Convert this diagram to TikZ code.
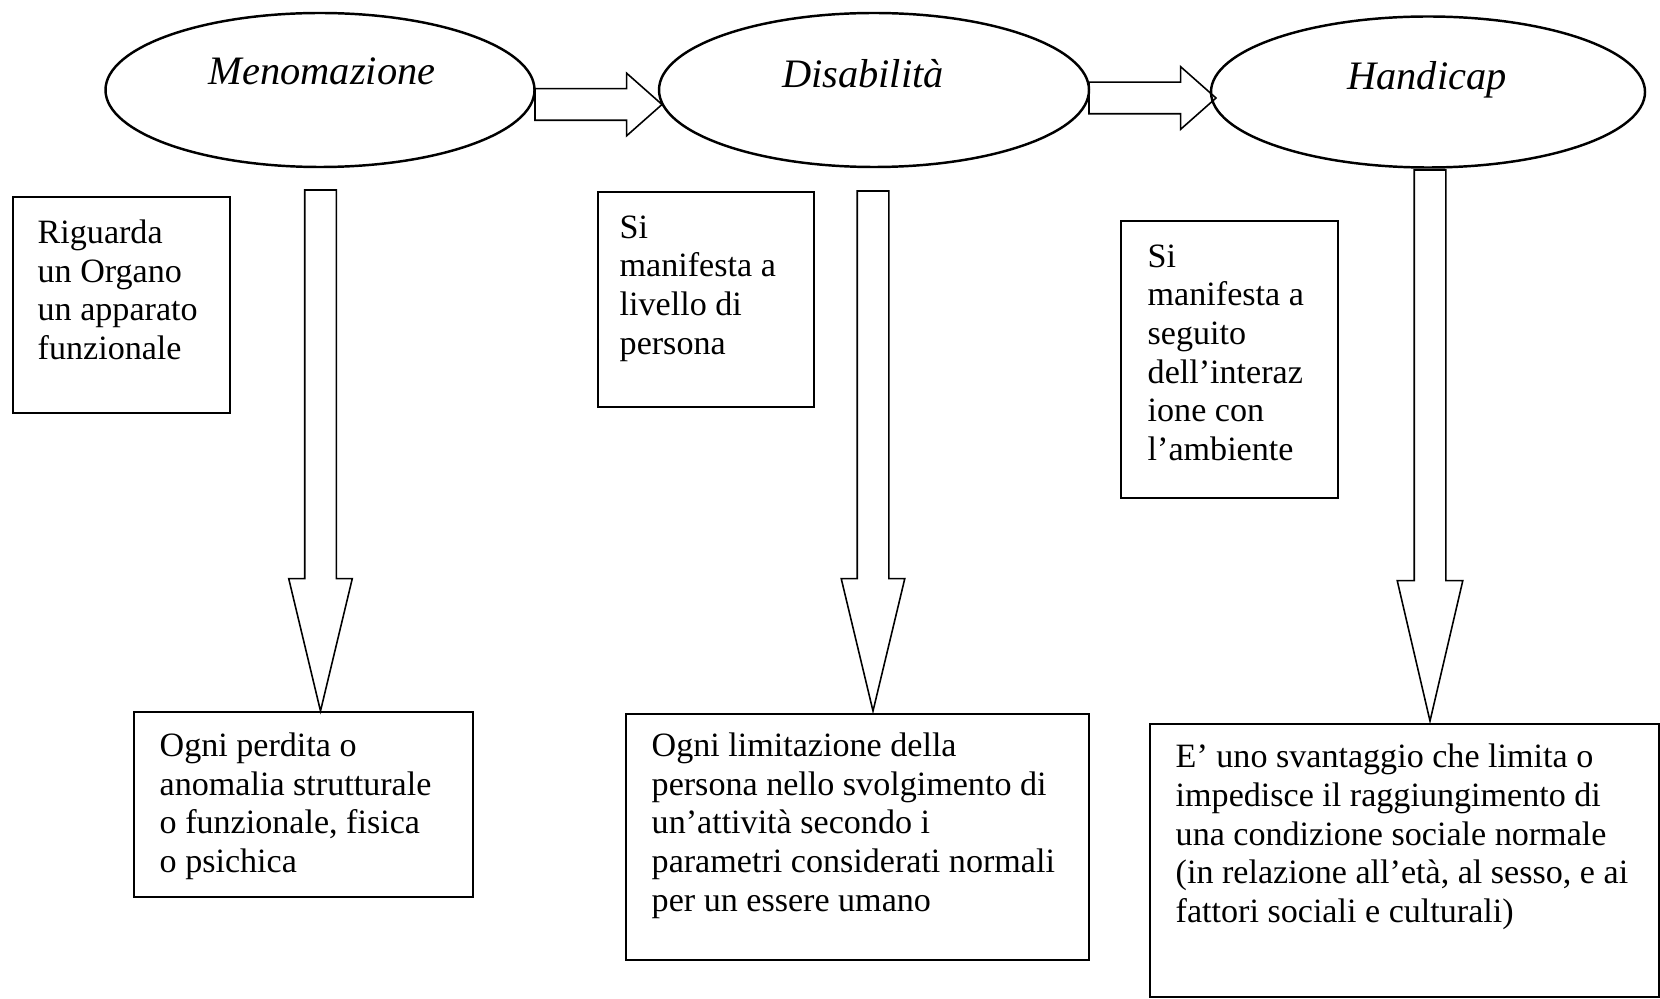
\documentclass[tikz,border=0pt]{standalone}
\usepackage{fontspec}
\setmainfont{Liberation Serif}
\usetikzlibrary{shapes.geometric,shapes.arrows}

\begin{document}
\begin{tikzpicture}[
        stage/.style={ellipse, draw, line width=0.7pt, inner sep=0pt, outer sep=0pt},
        stagename/.style={inner sep=0pt, font=\fontsize{11.5}{13}\selectfont\itshape},
        infobox/.style={rectangle, draw, line width=0.6pt, inner sep=0pt, anchor=north west},
        infotext/.style={inner sep=0pt, anchor=north west, align=left, font=\fontsize{9.7}{11}\selectfont},
        flowright/.style={single arrow, draw, line width=0.45pt, inner sep=0.15cm, outer sep=0pt, anchor=tail,
            single arrow head extend=0.155cm, single arrow tip angle=83, minimum height=1.27cm},
        flowdown/.style={single arrow, draw, line width=0.45pt, rotate=-90, inner sep=0.15cm, outer sep=0pt, anchor=tail,
            single arrow head extend=0.16cm, single arrow tip angle=27}
    ]
        \useasboundingbox (0,0) rectangle (16.6,9.98);

        % Define the stages
        \node[stage, minimum width=4.29cm, minimum height=1.54cm] (meno) at (3.20,9.08) {};
        \node[stage, minimum width=4.30cm, minimum height=1.54cm] (disab) at (8.74,9.08) {};
        \node[stage, minimum width=4.34cm, minimum height=1.51cm] (handi) at (14.28,9.06) {};
        \node[stagename] (menoname) at (3.22,9.27) {Menomazione};
        \node[stagename] (disabname) at (8.63,9.24) {Disabilità};
        \node[stagename] (handiname) at (14.27,9.18) {Handicap};

        % Define the arrows between the stages
        \node[flowright] (menotodisab) at (5.35,8.935) {};
        \node[flowright] (disabtohandi) at (10.89,9.00) {};

        % Define the arrows down to the definitions
        \node[flowdown, minimum height=5.21cm] (menodown) at (3.205,8.08) {};
        \node[flowdown, minimum height=5.20cm] (disabdown) at (8.73,8.07) {};
        \node[flowdown, minimum height=5.51cm, single arrow head extend=0.17cm, single arrow tip angle=26.3] (handidown) at (14.30,8.28) {};

        % Define the side notes
        \node[infobox, minimum width=2.17cm, minimum height=2.16cm] (organo) at (0.12,8.02) {};
        \node[infotext] (organotext) at ([xshift=0.25cm, yshift=-0.23cm]organo.north west)
            {Riguarda\\un Organo\\un apparato\\funzionale};
        \node[infobox, minimum width=2.16cm, minimum height=2.15cm] (persona) at (5.97,8.07) {};
        \node[infotext] (personatext) at ([xshift=0.22cm, yshift=-0.24cm]persona.north west)
            {Si\\manifesta a\\livello di\\persona};
        \node[infobox, minimum width=2.17cm, minimum height=2.77cm] (ambiente) at (11.20,7.78) {};
        \node[infotext] (ambientetext) at ([xshift=0.27cm, yshift=-0.24cm]ambiente.north west)
            {Si\\manifesta a\\seguito\\dell'interaz\\ione con\\l'ambiente};

        % Define the definitions
        \node[infobox, minimum width=3.39cm, minimum height=1.85cm] (perdita) at (1.33,2.87) {};
        \node[infotext] (perditatext) at ([xshift=0.26cm, yshift=-0.21cm]perdita.north west)
            {Ogni perdita o\\anomalia strutturale\\o funzionale, fisica\\o psichica};
        \node[infobox, minimum width=4.63cm, minimum height=2.46cm] (limitazione) at (6.25,2.85) {};
        \node[infotext] (limitazionetext) at ([xshift=0.26cm, yshift=-0.19cm]limitazione.north west)
            {Ogni limitazione della\\persona nello svolgimento di\\un'attività secondo i\\parametri considerati normali\\per un essere umano};
        \node[infobox, minimum width=5.09cm, minimum height=2.73cm] (svantaggio) at (11.49,2.75) {};
        \node[infotext] (svantaggiotext) at ([xshift=0.26cm, yshift=-0.205cm]svantaggio.north west)
            {E' uno svantaggio che limita o\\impedisce il raggiungimento di\\una condizione sociale normale\\(in relazione all'età, al sesso, e ai\\fattori sociali e culturali)};
    \end{tikzpicture}
\end{document}
